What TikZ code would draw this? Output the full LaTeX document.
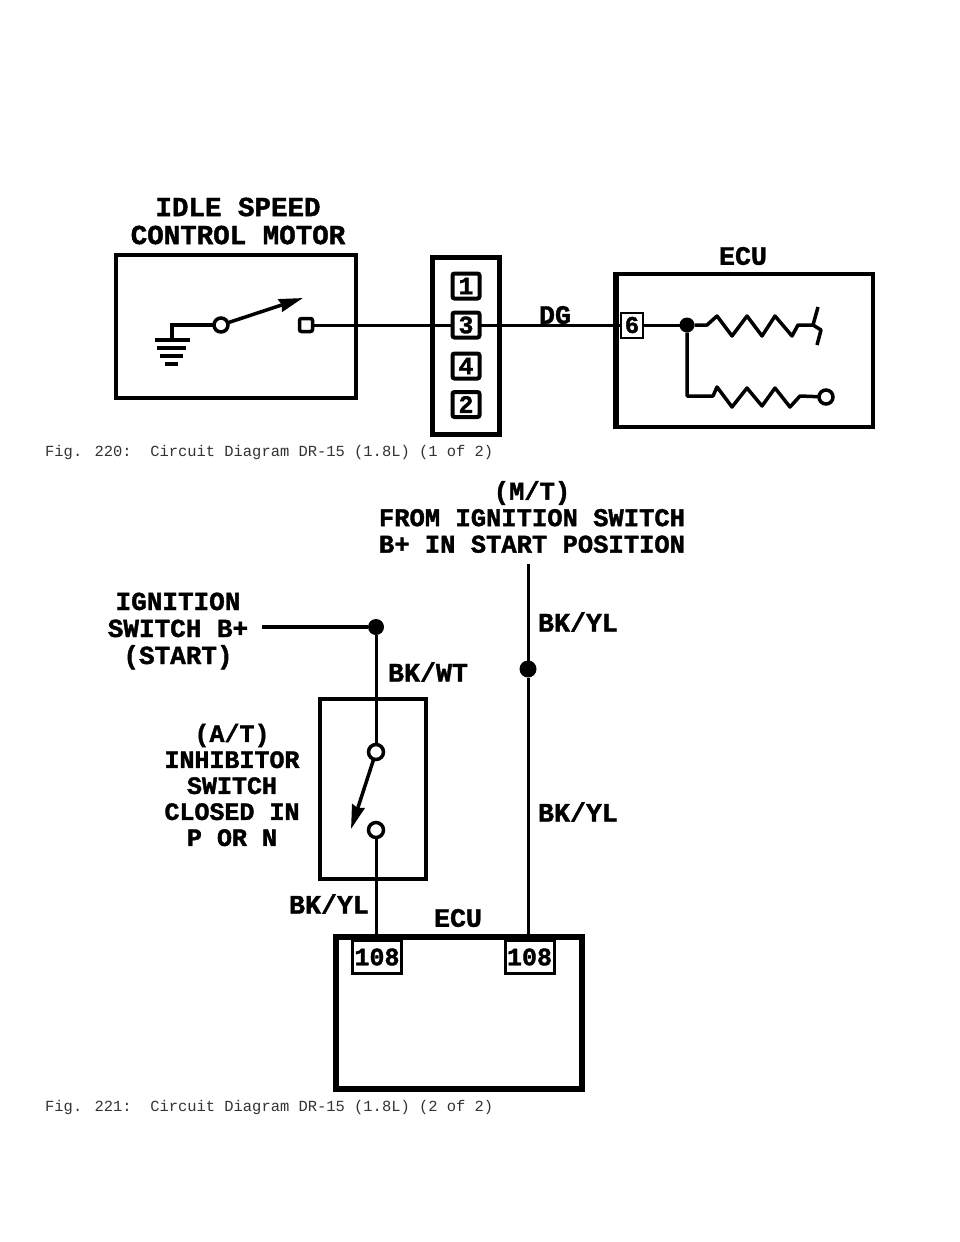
\documentclass[tikz,border=0pt]{standalone}
\usepackage{fontspec}
\setmainfont{Liberation Mono}
\newfontfamily\labf[BoldFeatures={FakeBold=1.5}]{Liberation Mono}
\usetikzlibrary{arrows.meta}
\tikzset{
  title/.style n args={2}{font=\labf\bfseries\fontsize{#1}{#2}\selectfont, align=center, inner sep=0pt, text=black},
  figcap/.style={font=\fontsize{15.45}{16}\selectfont, anchor=west, inner sep=0pt, text=black!80},
  box/.style={draw=black, line width=#1, fill=none, inner sep=0pt, outer sep=0pt},
  pin/.style={draw=black, line width=4pt, rounded corners=2pt, inner sep=0pt, outer sep=0pt, minimum width=27pt, minimum height=25pt, font=\labf\bfseries\fontsize{25}{25}\selectfont},
  pinb/.style={draw=black, line width=3pt, inner sep=0pt, outer sep=0pt, font=\labf\bfseries\fontsize{25}{25}\selectfont},
  term/.style={circle, draw=black, fill=white, line width=3.5pt, inner sep=0pt, outer sep=0pt, minimum size=#1},
  wire/.style={line width=#1, draw=black},
  dot/.style={circle, fill=black, inner sep=0pt, outer sep=0pt, minimum size=#1},
  arm/.style={line width=3.5pt, draw=black, -{Stealth[inset=2pt,length=24pt,width=13pt]}},
  bar/.style={line width=3.5pt, draw=black},
}
\begin{document}
\begin{tikzpicture}[x=1pt,y=-1pt]
\useasboundingbox (0,0) rectangle (960,1242);
% --- Fig 220
\node[title={27.5}{28}] (t1) at (238,221) {IDLE SPEED\\CONTROL MOTOR};
\node[box=4pt, minimum width=240pt, minimum height=143pt] (isc) at (236,326) {};
\node[box=5pt, minimum width=67pt, minimum height=177pt] (conn) at (466,346) {};
\node[pin] (p1) at (466,286) {1};
\node[pin] (p3) at (466,325) {3};
\node[pin] (p4) at (466,366) {4};
\node[pin] (p2) at (466,404.5) {2};
\node[title={26.6}{27}] (ecu1t) at (743,256) {ECU};
\node[box=4pt, minimum width=258pt, minimum height=153pt] (ecu1) at (744,350.5) {};
\fill[black] (ecu1.north west) ++(-2,-2) rectangle ++(6,157);
\node[draw=black, line width=2pt, inner sep=0pt, minimum width=22pt, minimum height=25pt, font=\labf\bfseries\fontsize{24}{24}\selectfont] (p6) at (632,325) {6};
\node[title={26.6}{27}] (dg) at (555,315) {DG};
\node[term=14pt] (sw1) at (221,325) {};
\node[draw=black, fill=white, line width=3.5pt, rounded corners=2pt, inner sep=0pt, minimum size=13pt] (sw2) at (306,325) {};
\coordinate (g0) at (172,340);
\coordinate (tip1) at (303,298);
\draw[wire=3.5pt] (sw1) -- (172,325) -- (g0);
\draw[bar] (155,340) -- (190,340);
\draw[bar] (157,348) -- (186,348);
\draw[bar] (160,356) -- (183,356);
\draw[bar] (165,364) -- (178,364);
\draw[arm] (sw1) -- (tip1);
\draw[wire=3pt] (sw2) -- (p3);
\draw[wire=3pt] (p3) -- (p6);
\node[dot=15pt] (j1) at (687,325) {};
\draw[wire=3pt] (p6) -- (j1);
\coordinate (h1) at (817,345);
\draw[wire=3.5pt, line join=round] (j1) -- (707,325) -- (717,316) -- (732,336) -- (747,316) -- (762,336) -- (775,316) -- (792,336) -- (798,325) -- (813,325);
\draw[wire=3.5pt, line join=round] (818,307) -- (813,325) -- (821,330) -- (h1);
\node[term=14pt] (r2) at (826,397) {};
\draw[wire=3.5pt, line join=round] (j1) -- (687,396) -- (713,396) -- (717,387) -- (732,407) -- (747,388) -- (762,406) -- (775,388) -- (790,407) -- (800,396) -- (r2);
\node[figcap] (c1) at (45,452) {Fig. 220:\ \ Circuit Diagram DR-15 (1.8L) (1 of 2)};
% --- Fig 221
\node[title={25.5}{26.5}] (mt) at (532,517) {(M/T)\\FROM IGNITION SWITCH\\B+ IN START POSITION};
\node[title={26}{27}] (ig) at (178,631) {IGNITION\\SWITCH B+\\(START)};
\node[dot=16pt] (j2) at (376,627) {};
\coordinate (igend) at (262,627);
\draw[wire=3.5pt] (igend) -- (j2);
\node[title={26.6}{27}] (bkwt) at (428,672) {BK/WT};
\node[box=4pt, minimum width=106pt, minimum height=180pt] (inh) at (372.5,788.5) {};
\node[title={25}{26}] (at) at (232,785) {(A/T)\\INHIBITOR\\SWITCH\\CLOSED IN\\P OR N};
\node[term=15pt] (s3) at (376,752) {};
\node[term=15pt] (s4) at (376,830) {};
\coordinate (tip2) at (351,829);
\draw[wire=3pt] (j2) -- (s3);
\draw[arm] (s3) -- (tip2);
\node[title={26.6}{27}] (bkyl3) at (329,904) {BK/YL};
\node[title={26.6}{27}] (ecu2t) at (458,918) {ECU};
\node[box=6pt, minimum width=246pt, minimum height=152pt] (ecu2) at (459,1013) {};
\node[pinb, minimum width=49pt, minimum height=33pt] (p108a) at (377,957) {108};
\node[pinb, minimum width=49pt, minimum height=33pt] (p108b) at (529.5,957) {108};
\draw[wire=3pt] (s4) -- (s4 |- p108a.north);
\coordinate (top) at (528,564);
\node[dot=17pt] (j3) at (528,669) {};
\draw[wire=3pt] (top) -- (j3);
\draw[wire=3pt] (j3) -- (j3 |- p108b.north);
\node[title={26.6}{27}] (bkyl1) at (578,622) {BK/YL};
\node[title={26.6}{27}] (bkyl2) at (578,812) {BK/YL};
\node[figcap] (c2) at (45,1107) {Fig. 221:\ \ Circuit Diagram DR-15 (1.8L) (2 of 2)};
\end{tikzpicture}
\end{document}
